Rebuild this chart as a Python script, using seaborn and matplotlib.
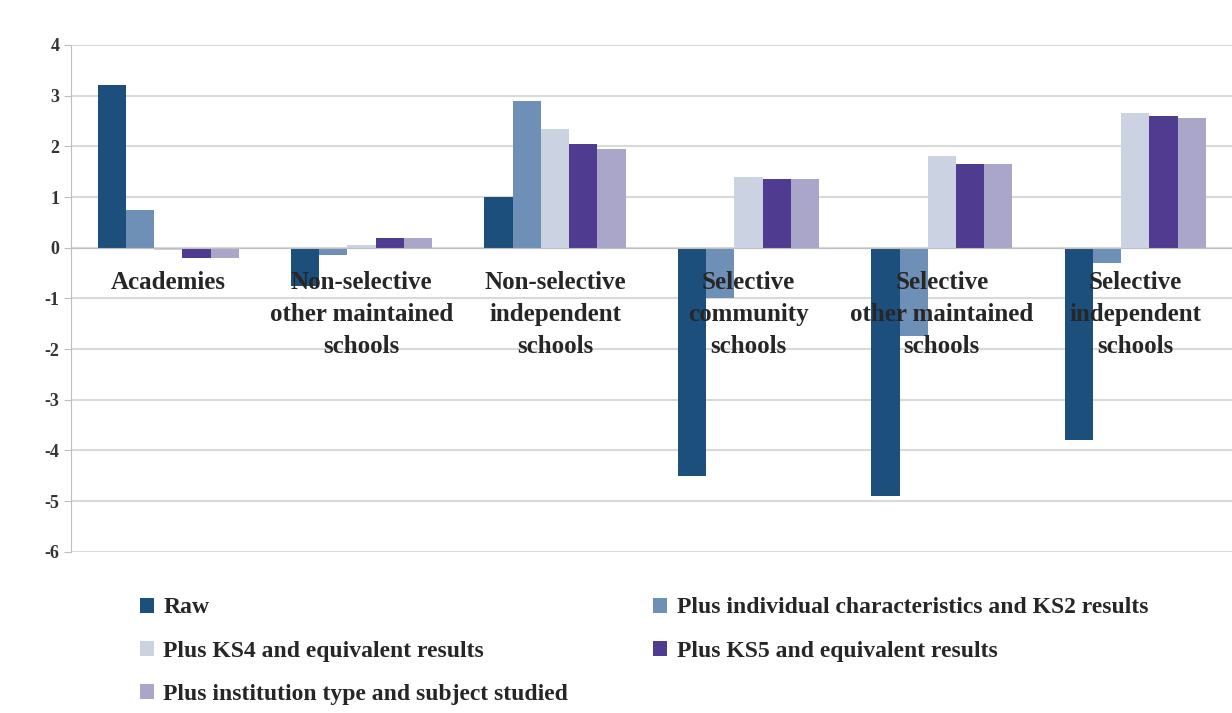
import pandas as pd
import matplotlib.pyplot as plt
import seaborn as sns

# Categories and series
categories = [
    "Academies",
    "Non-selective\nother maintained\nschools",
    "Non-selective\nindependent\nschools",
    "Selective\ncommunity\nschools",
    "Selective\nother maintained\nschools",
    "Selective\nindependent\nschools",
]
series = [
    "Raw",
    "Plus individual characteristics and KS2 results",
    "Plus KS4 and equivalent results",
    "Plus KS5 and equivalent results",
    "Plus institution type and subject studied",
]
raw = [3.2, -0.75, 1.0, -4.5, -4.9, -3.8]
plus_ks2 = [0.75, -0.15, 2.9, -1.0, -1.75, -0.3]
plus_ks4 = [-0.05, 0.05, 2.35, 1.4, 1.8, 2.65]
plus_ks5 = [-0.2, 0.2, 2.05, 1.35, 1.65, 2.6]
plus_inst = [-0.2, 0.2, 1.95, 1.35, 1.65, 2.55]
colors = ["#1d4f7c", "#6f90b6", "#cbd3e2", "#4f3b8f", "#aaa6c9"]
yticks = [4, 3, 2, 1, 0, -1, -2, -3, -4, -5, -6]

rows = []
for name, vals in zip(series, [raw, plus_ks2, plus_ks4, plus_ks5, plus_inst]):
    for cat, v in zip(categories, vals):
        rows.append({"category": cat, "series": name, "value": v})
df = pd.DataFrame(rows)

sns.set_style("white")
plt.rcParams["font.family"] = ["Liberation Serif", "DejaVu Serif"]

fig = plt.figure(figsize=(12.32, 7.13), dpi=100)
ax = fig.add_axes([0.058, 0.226, 0.942, 0.711])

sns.barplot(data=df, x="category", y="value", hue="series", order=categories,
            hue_order=series, palette=colors, width=0.73, saturation=1,
            edgecolor="none", ax=ax, legend=True, zorder=2)

ax.set_ylim(-6, 4)
ax.set_yticks(yticks)
ax.set_yticklabels([str(t) for t in yticks], fontsize=13, fontweight="bold",
                   color="#333333")
ax.yaxis.grid(True, color="#d9d9d9", linewidth=1.5)
ax.set_axisbelow(True)
ax.set_xlabel("")
ax.set_ylabel("")

# category axis sits on the zero line, like the original
ax.spines["bottom"].set_position(("data", 0))
ax.spines["bottom"].set_color("#bfbfbf")
ax.spines["left"].set_color("#bfbfbf")
ax.spines["top"].set_visible(False)
ax.spines["right"].set_visible(False)
ax.tick_params(axis="x", length=0)
ax.tick_params(axis="y", length=5, color="#bfbfbf", left=True)
ax.set_xticks(range(len(categories)))
ax.set_xticklabels([])
ax.set_xlim(-0.5, len(categories) - 0.5)

# labels are drawn over the bars, as in the original
for i, cat in enumerate(categories):
    ax.annotate(cat, xy=(i, 0), xytext=(0, -17), textcoords="offset points",
                ha="center", va="top", fontsize=18, fontweight="bold",
                linespacing=1.5, color="#262626", zorder=5)

handles, labels = ax.get_legend_handles_labels()
ax.get_legend().remove()
order = [0, 2, 4, 1, 3]
fig.legend([handles[i] for i in order], [labels[i] for i in order],
           loc="upper left", bbox_to_anchor=(0.096, 0.192), ncol=2,
           frameon=False, prop={"size": 17, "weight": "bold"},
           handlelength=0.6, handleheight=0.6, handletextpad=0.4,
           labelspacing=0.95, columnspacing=3.6, labelcolor="#262626")

plt.savefig("out.png", dpi=100)
plt.close()
